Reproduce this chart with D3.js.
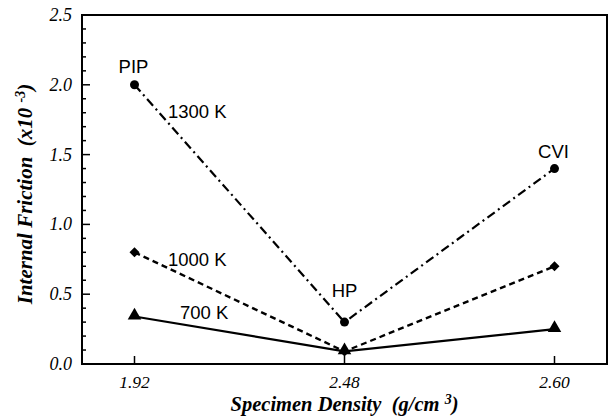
<!DOCTYPE html>
<html><head><meta charset="utf-8">
<script src="https://cdn.jsdelivr.net/npm/d3@7"></script>
<style>body{margin:0;background:#fff}svg{display:block}text{white-space:pre}</style>
</head><body>
<svg id="c" width="609" height="417"></svg>
<script>
const categories = ["1.92", "2.48", "2.60"];
const series1300 = [2.0, 0.3, 1.4];
const series1000 = [0.8, 0.09, 0.7];
const series700 = [0.34, 0.09, 0.25];
const yTicks = [0.0, 0.5, 1.0, 1.5, 2.0, 2.5];
const pointLabels = ["PIP", "HP", "CVI"];
const seriesLabels = ["1300 K", "1000 K", "700 K"];

const svg = d3.select("#c");
const L = 82, R = 607, T = 15, B = 364;
const x = d3.scaleLinear().domain([-0.25, 2.25]).range([L, R]);
const y = d3.scaleLinear().domain([0, 2.5]).range([B, T]);

// frame
svg.append("rect").attr("x", L).attr("y", T).attr("width", R - L).attr("height", B - T)
  .attr("fill", "none").attr("stroke", "#000").attr("stroke-width", 2);

// y axis ticks (inward)
const minor = d3.range(0, 2.501, 0.1);
svg.append("g").selectAll("line").data(minor).join("line")
  .attr("x1", L).attr("x2", d => (Math.abs(d * 2 - Math.round(d * 2)) < 1e-6) ? L + 8 : L + 4)
  .attr("y1", d => y(d)).attr("y2", d => y(d)).attr("stroke", "#000").attr("stroke-width", 1.5);
svg.append("g").selectAll("text").data(yTicks).join("text")
  .attr("x", 72).attr("y", d => y(d) + 6).attr("text-anchor", "end")
  .attr("font-family", "Liberation Serif").attr("font-style", "italic").attr("font-size", 18)
  .text(d => d.toFixed(1));

// x ticks
svg.append("g").selectAll("line").data(categories).join("line")
  .attr("x1", (d, i) => x(i)).attr("x2", (d, i) => x(i)).attr("y1", B).attr("y2", B - 8)
  .attr("stroke", "#000").attr("stroke-width", 1.5);
svg.append("g").selectAll("text").data(categories).join("text")
  .attr("x", (d, i) => x(i)).attr("y", 388).attr("text-anchor", "middle")
  .attr("font-family", "Liberation Serif").attr("font-style", "italic").attr("font-size", 17.5)
  .text(d => d);

// axis titles
const xt = svg.append("text").attr("x", (L + R) / 2).attr("y", 411).attr("text-anchor", "middle")
  .attr("font-family", "Liberation Serif").attr("font-style", "italic").attr("font-weight", "bold").attr("font-size", 20.5);
xt.append("tspan").text("Specimen Density  (g/cm ");
xt.append("tspan").attr("font-size", 14).attr("dy", -7).text("3");
xt.append("tspan").attr("dy", 7).text(")");

const yt = svg.append("text").attr("transform", `translate(32,194) rotate(-90)`).attr("text-anchor", "middle")
  .attr("font-family", "Liberation Serif").attr("font-style", "italic").attr("font-weight", "bold").attr("font-size", 21);
yt.append("tspan").text("Internal Friction  (x10 ");
yt.append("tspan").attr("font-size", 14).attr("dy", -7).text("-3");
yt.append("tspan").attr("dy", 7).text(")");

const line = d3.line().x((d, i) => x(i)).y(d => y(d));

// lines
svg.append("path").datum(series1300).attr("d", line).attr("fill", "none").attr("stroke", "#000")
  .attr("stroke-width", 2.2).attr("stroke-dasharray", "9,4,2,4");
svg.append("path").datum(series1000).attr("d", line).attr("fill", "none").attr("stroke", "#000")
  .attr("stroke-width", 2.4).attr("stroke-dasharray", "6,4");
svg.append("path").datum(series700).attr("d", line).attr("fill", "none").attr("stroke", "#000")
  .attr("stroke-width", 2.2);

// markers
svg.append("g").selectAll("circle").data(series1300).join("circle")
  .attr("cx", (d, i) => x(i)).attr("cy", d => y(d)).attr("r", 4.5).attr("fill", "#000");
const diamond = d3.symbol().type(d3.symbolDiamond2).size(64);
svg.append("g").selectAll("path").data(series1000).join("path")
  .attr("transform", (d, i) => `translate(${x(i)},${y(d)})`).attr("d", diamond).attr("fill", "#000");
const tri = d3.symbol().type(d3.symbolTriangle).size(80);
svg.append("g").selectAll("path").data(series700).join("path")
  .attr("transform", (d, i) => `translate(${x(i)},${y(d) - 1})`).attr("d", tri).attr("fill", "#000");

// labels
const lab = (t, xx, yy, anchor) => svg.append("text").attr("x", xx).attr("y", yy)
  .attr("text-anchor", anchor || "start").attr("font-family", "Liberation Sans").attr("font-size", 18.5).text(t);
lab(pointLabels[0], x(0) - 1, y(series1300[0]) - 12, "middle");
lab(pointLabels[1], x(1), y(series1300[1]) - 25, "middle");
lab(pointLabels[2], x(2) - 1, y(series1300[2]) - 11, "middle");
lab(seriesLabels[0], 168, 118);
lab(seriesLabels[1], 168, 266);
lab(seriesLabels[2], 180, 319);
</script>
</body></html>
